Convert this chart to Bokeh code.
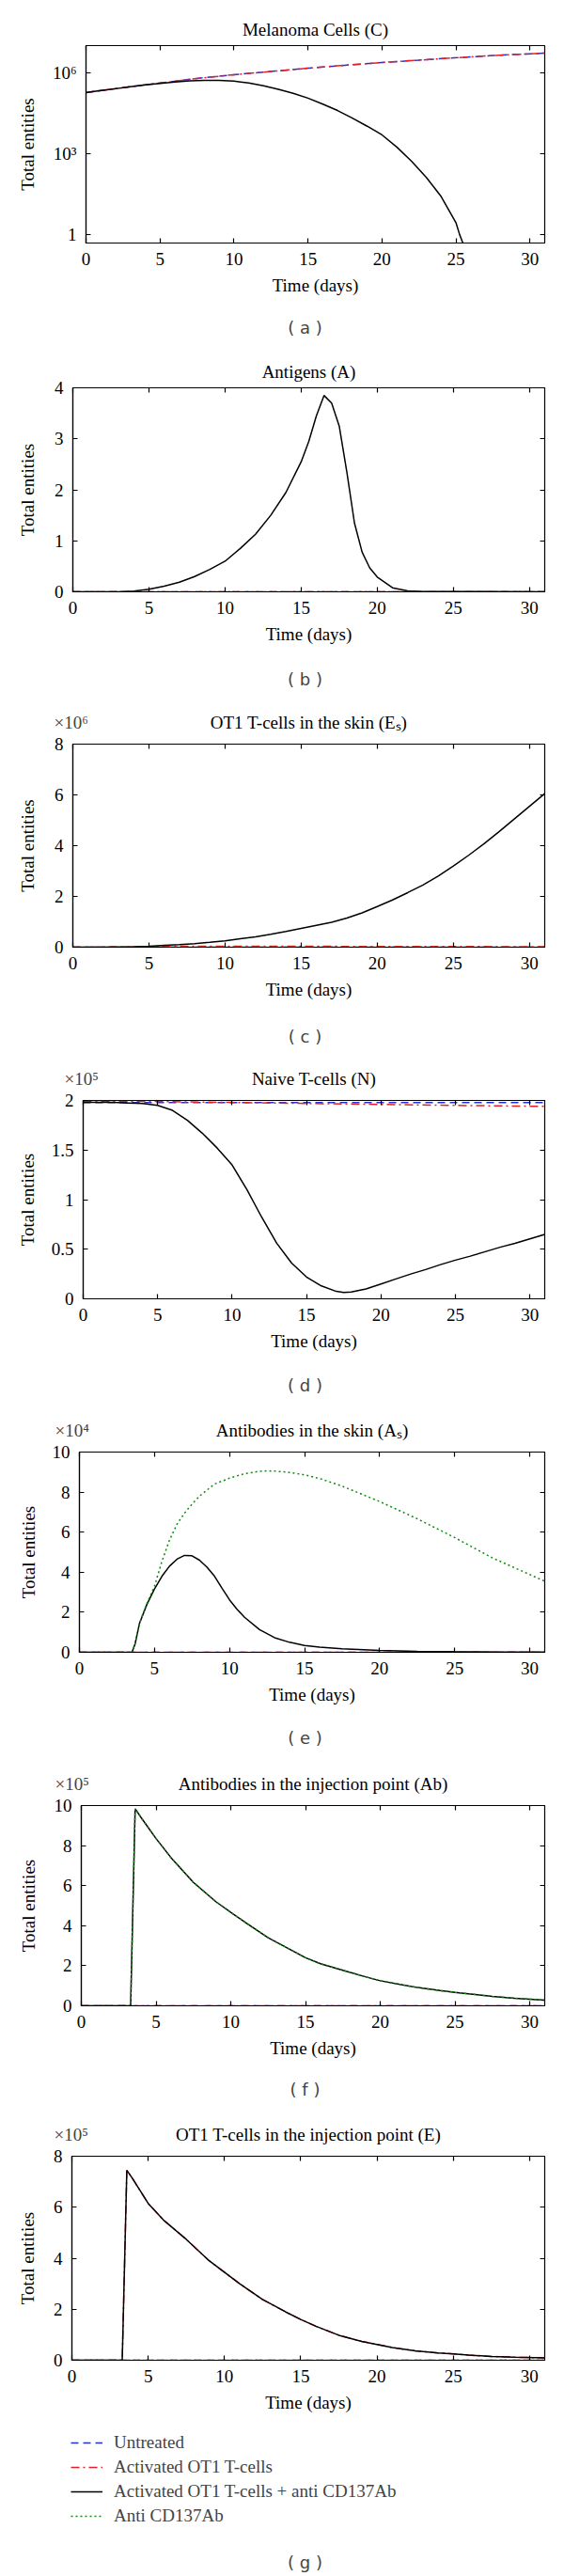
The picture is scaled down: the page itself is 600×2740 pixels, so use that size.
from bokeh.plotting import figure
from bokeh.models import (Range1d, FixedTicker, LinearAxis, LogAxis, Label, Legend,
                          LegendItem, NumeralTickFormatter)
from bokeh.document import Document
from bokeh.embed import file_html
from bokeh.resources import INLINE

# ------------------------------------------------------------------ data
series_names = ["Untreated", "Activated OT1 T-cells",
                "Activated OT1 T-cells + anti CD137Ab", "Anti CD137Ab"]
x_ticks = [0, 5, 10, 15, 20, 25, 30]
t_flat = [0, 31]
zeros = [0, 0]

# (a) Melanoma cells C (absolute numbers, log axis)
a_t_ctrl = [0, 2.5, 5, 7.5, 10, 12.5, 15, 17.5, 20, 22.5, 25, 27.5, 31]
a_untreated = [186000, 282000, 417000, 617000, 851000, 1120000, 1480000,
               1905000, 2400000, 2950000, 3630000, 4370000, 5370000]
a_activated = [186000, 282000, 417000, 617000, 851000, 1120000, 1480000,
               1905000, 2400000, 2950000, 3630000, 4370000, 5370000]
a_t_combo = [0, 1, 2, 3, 4, 5, 6, 7, 8, 9, 10, 11, 12, 13, 14, 15, 16, 17, 18,
             19, 20, 21, 22, 23, 24, 25, 25.25, 25.6]
a_combo = [186000, 219000, 257000, 302000, 355000, 407000, 457000, 501000,
           525000, 525000, 490000, 417000, 331000, 245000, 174000, 115000,
           69000, 40000, 21000, 10500, 5000, 1780, 525, 132, 26, 2.8, 1.0, 0.32]

# (b) Antigens A
b_t_combo = [0, 3, 4, 5, 6, 7, 8, 9, 10, 11, 12, 13, 14, 15, 15.5, 16, 16.5,
             17, 17.5, 18, 18.5, 19, 19.5, 20, 21, 22, 23, 31]
b_combo = [0, 0, 0.015, 0.05, 0.11, 0.19, 0.3, 0.44, 0.6, 0.85, 1.13, 1.5,
           1.95, 2.55, 2.95, 3.45, 3.85, 3.7, 3.25, 2.35, 1.35, 0.78, 0.47,
           0.29, 0.08, 0.02, 0.005, 0]

# (c) OT1 T-cells in the skin Es (x 10^6)
c_t_combo = [0, 2, 4, 5, 6, 7, 8, 9, 10, 11, 12, 13, 14, 15, 16, 17, 18, 19,
             20, 21, 22, 23, 24, 25, 26, 27, 28, 29, 30, 31]
c_combo = [0, 0.003, 0.02, 0.04, 0.07, 0.1, 0.14, 0.19, 0.25, 0.33, 0.41,
           0.51, 0.62, 0.74, 0.86, 0.98, 1.15, 1.35, 1.6, 1.86, 2.15, 2.45,
           2.8, 3.2, 3.62, 4.07, 4.55, 5.05, 5.55, 6.05]
c_t_activated = [0, 4, 6, 8, 10, 15, 20, 25, 31]
c_activated = [0, 0.01, 0.03, 0.04, 0.04, 0.035, 0.03, 0.025, 0.02]

# (d) Naive T-cells N (x 10^5)
d_t_combo = [0, 1, 2, 3, 4, 5, 6, 7, 8, 9, 10, 11, 12, 13, 14, 15, 16, 17,
             17.5, 18, 19, 20, 21, 22, 23, 24, 25, 26, 27, 28, 29, 30, 31]
d_combo = [1.98, 1.98, 1.98, 1.975, 1.97, 1.95, 1.9, 1.8, 1.67, 1.52, 1.35,
           1.1, 0.82, 0.56, 0.36, 0.22, 0.13, 0.075, 0.065, 0.068, 0.1, 0.15,
           0.2, 0.25, 0.295, 0.345, 0.39, 0.43, 0.475, 0.52, 0.56, 0.605, 0.65]
d_t_ctrl = [0, 5, 10, 15, 20, 25, 31]
d_untreated = [1.978, 1.978, 1.978, 1.978, 1.978, 1.978, 1.978]
d_activated = [1.99, 1.99, 1.98, 1.97, 1.96, 1.95, 1.94]

# (e) Antibodies in the skin As (x 10^4)
e_t_combo = [0, 3.5, 3.7, 4, 4.5, 5, 5.5, 6, 6.5, 7, 7.5, 8, 8.5, 9, 9.5, 10,
             10.5, 11, 12, 13, 14, 15, 16, 17.5, 20, 22.5, 25, 28, 31]
e_combo = [0, 0, 0.4, 1.44, 2.4, 3.16, 3.8, 4.3, 4.65, 4.84, 4.82, 4.6, 4.25,
           3.8, 3.2, 2.62, 2.15, 1.75, 1.13, 0.73, 0.5, 0.34, 0.26, 0.18,
           0.09, 0.05, 0.03, 0.015, 0.01]
e_t_anti = [0, 3.5, 3.7, 4, 4.5, 5, 5.5, 6, 6.5, 7, 7.5, 8, 9, 10, 11, 12,
            12.5, 13, 14, 15, 16, 17.5, 20, 22.5, 25, 27.5, 31]
e_anti = [0, 0, 0.4, 1.44, 2.45, 3.3, 4.55, 5.6, 6.4, 6.95, 7.4, 7.8, 8.4,
          8.7, 8.92, 9.04, 9.06, 9.05, 8.98, 8.86, 8.68, 8.3, 7.53, 6.67,
          5.73, 4.72, 3.55]

# (f) Antibodies in the injection point Ab (x 10^5)
f_t = [0, 3.3, 3.6, 4, 5, 6, 7.5, 9, 10, 11, 12.5, 14, 15, 16, 17.5, 19, 20,
       21.5, 22.5, 24, 25, 26.5, 27.5, 29, 31]
f_combo = [0, 0, 9.84, 9.4, 8.35, 7.4, 6.16, 5.2, 4.67, 4.15, 3.4, 2.8, 2.4,
           2.1, 1.77, 1.45, 1.25, 1.04, 0.91, 0.76, 0.67, 0.55, 0.47, 0.38,
           0.28]
f_anti = [0, 0, 9.84, 9.4, 8.35, 7.4, 6.16, 5.2, 4.67, 4.15, 3.4, 2.8, 2.4,
          2.1, 1.77, 1.45, 1.25, 1.04, 0.91, 0.76, 0.67, 0.55, 0.47, 0.38,
          0.28]

# (g) OT1 T-cells in the injection point E (x 10^5)
g_t = [0, 3.3, 3.6, 4, 5, 6, 7.5, 9, 10, 11, 12.5, 14, 15, 16, 17.5, 19, 20,
       21, 22.5, 24, 25, 26, 27.5, 29, 31]
g_activated = [0, 0, 7.45, 7.1, 6.15, 5.5, 4.74, 3.9, 3.45, 3.0, 2.38, 1.9,
               1.6, 1.33, 0.98, 0.74, 0.62, 0.5, 0.37, 0.29, 0.25, 0.2, 0.15,
               0.12, 0.09]
g_combo = [0, 0, 7.45, 7.1, 6.15, 5.5, 4.74, 3.9, 3.45, 3.0, 2.38, 1.9, 1.6,
           1.33, 0.98, 0.74, 0.62, 0.5, 0.37, 0.29, 0.25, 0.2, 0.15, 0.12, 0.09]

# ------------------------------------------------------------------ style
SERIF = "Liberation Serif"
SANS = "DejaVu Sans"
FS = "19px"
STY = {
    "blue": dict(line_color="#2233cc", line_dash="8 5", line_width=1.5),
    "red": dict(line_color="#e3202a", line_dash="9 4 2 4", line_width=1.5),
    "black": dict(line_color="#000000", line_width=1.5),
    "green": dict(line_color="#118a11", line_dash="2 3", line_width=1.5),
}
FIG_W = 600
FRAME_RIGHT = 579
XAX = 58        # height of the bottom axis panel
LAB = 21        # height of a label panel


def style_axis(ax, ticks, labels=True):
    ax.ticker = FixedTicker(ticks=ticks)
    ax.major_tick_in = 5
    ax.major_tick_out = 0
    ax.minor_tick_in = 0
    ax.minor_tick_out = 0
    ax.axis_line_color = "black"
    ax.axis_line_width = 1.2
    ax.major_tick_line_color = "black"
    ax.major_tick_line_width = 1.2
    ax.major_label_text_font = SERIF
    ax.major_label_text_color = "black"
    ax.axis_label_text_font = SERIF
    ax.axis_label_text_font_size = FS
    ax.axis_label_text_font_style = "normal"
    ax.axis_label_text_color = "black"
    if labels:
        ax.major_label_text_font_size = FS
    else:
        ax.major_label_text_font_size = "1px"
        ax.major_label_text_color = None
        ax.major_label_standoff = 0
        ax.axis_line_color = None


def make_panel(fig_top, fig_bottom, frame_top, frame_bottom, left, y_range,
               y_ticks, title, title_standoff, ylab_standoff, caption=None,
               caption_y=None, mult=None, mult_left=None, log=False,
               y_overrides=None, y_fmt=None):
    fh = frame_bottom - frame_top
    kw = dict(width=FIG_W, height=fig_bottom - fig_top, x_range=Range1d(0, 31),
              y_range=Range1d(*y_range), output_backend="svg",
              toolbar_location=None, min_border_left=left,
              min_border_right=FIG_W - FRAME_RIGHT,
              min_border_top=frame_top - fig_top,
              min_border_bottom=fig_bottom - frame_bottom)
    if log:
        kw["y_axis_type"] = "log"
    p = figure(**kw)
    p.grid.visible = False
    p.outline_line_color = "black"
    p.outline_line_width = 1.2
    p.background_fill_color = "white"
    p.border_fill_color = "white"

    p.title.text = title
    p.title.align = "center"
    p.title.text_font = SERIF
    p.title.text_font_size = FS
    p.title.text_font_style = "normal"
    p.title.text_color = "black"
    p.title.standoff = title_standoff
    title_above = (23 + title_standoff) / 2 - 1.7

    xa = p.xaxis[0]
    style_axis(xa, x_ticks)
    xa.major_label_standoff = 10
    xa.axis_label = "Time (days)"
    xa.axis_label_standoff = 8
    ya = p.yaxis[0]
    style_axis(ya, y_ticks)
    ya.major_label_standoff = 10
    ya.axis_label = "Total entities"
    ya.axis_label_standoff = ylab_standoff
    if y_overrides:
        ya.major_label_overrides = y_overrides
    if y_fmt:
        ya.formatter = NumeralTickFormatter(format=y_fmt)

    top = LinearAxis()
    style_axis(top, x_ticks, labels=False)
    p.add_layout(top, "above")
    right = LogAxis() if log else LinearAxis()
    style_axis(right, y_ticks, labels=False)
    p.add_layout(right, "right")

    used = XAX
    if mult:
        used += LAB
        p.add_layout(Label(x=mult_left - left, y=used + fh + title_above,
                           x_units="screen", y_units="screen", text=mult,
                           text_font=SERIF, text_font_size=FS, text_align="left",
                           text_baseline="middle"), "below")
    if caption:
        used += LAB
        p.add_layout(Label(x=324 - left, y=used - (caption_y - frame_bottom),
                           x_units="screen", y_units="screen", text=caption,
                           text_font=SANS, text_font_size="18px",
                           text_align="center", text_baseline="middle"), "below")
    return p


pa = make_panel(0, 372, 48, 258, 91, (0.49, 1.02e7), [1, 1000, 1000000],
                "Melanoma Cells (C)", 14, 13, "( a )", 348, log=True,
                y_overrides={1: "1", 1000: "10³", 1000000: "10⁶"})
pa.line(a_t_ctrl, a_untreated, **STY["blue"])
pa.line(a_t_ctrl, a_activated, **STY["red"])
pa.line(a_t_combo, a_combo, **STY["black"])

pb = make_panel(372, 742, 412, 629, 77, (0, 4), [0, 1, 2, 3, 4],
                "Antigens (A)", 14, 15, "( b )", 722)
pb.line(t_flat, zeros, **STY["blue"])
pb.line(t_flat, zeros, **STY["red"])
pb.line(b_t_combo, b_combo, **STY["black"])
pb.line(t_flat, zeros, **STY["green"])

pc = make_panel(742, 1121, 791, 1007, 77, (0, 8), [0, 2, 4, 6, 8],
                "OT1 T-cells in the skin (Eₛ)", 26, 15, "( c )", 1102,
                mult="×10⁶", mult_left=57)
pc.line(t_flat, zeros, **STY["blue"])
pc.line(c_t_activated, c_activated, **STY["red"])
pc.line(c_t_combo, c_combo, **STY["black"])
pc.line(t_flat, zeros, **STY["green"])

pd_ = make_panel(1121, 1495, 1170, 1381, 88, (0, 2), [0, 0.5, 1, 1.5, 2],
                 "Naive T-cells (N)", 26, 12, "( d )", 1473,
                 mult="×10⁵", mult_left=68, y_fmt="0.[0]")
pd_.line(d_t_ctrl, d_untreated, **STY["blue"])
pd_.line(d_t_ctrl, d_activated, **STY["red"])
pd_.line(d_t_combo, d_combo, **STY["black"])

pe = make_panel(1495, 1871, 1544, 1757, 84, (0, 10), [0, 2, 4, 6, 8, 10],
                "Antibodies in the skin (Aₛ)", 26, 12, "( e )", 1848,
                mult="×10⁴", mult_left=58)
pe.line(t_flat, zeros, **STY["blue"])
pe.line(t_flat, zeros, **STY["red"])
pe.line(e_t_combo, e_combo, **STY["black"])
pe.line(e_t_anti, e_anti, **STY["green"])

pf = make_panel(1871, 2244, 1920, 2133, 86, (0, 10), [0, 2, 4, 6, 8, 10],
                "Antibodies in the injection point (Ab)", 26, 14, "( f )", 2222,
                mult="×10⁵", mult_left=58)
pf.line(t_flat, zeros, **STY["blue"])
pf.line(t_flat, zeros, **STY["red"])
pf.line(f_t, f_combo, **STY["black"])
pf.line(f_t, f_anti, **STY["green"])

pg = make_panel(2244, 2589, 2293, 2510, 76, (0, 8), [0, 2, 4, 6, 8],
                "OT1 T-cells in the injection point (E)", 26, 14,
                mult="×10⁵", mult_left=57)
pg.line(t_flat, zeros, **STY["blue"])
pg.line(g_t, g_activated, **STY["red"])
pg.line(g_t, g_combo, **STY["black"])
pg.line(t_flat, zeros, **STY["green"])

# legend + caption strip under panel (g); its lines repeat panel (g)'s series,
# kept outside the strip's visible range so only the legend samples show
LEG_H = 2740 - 2589
pl = figure(width=FIG_W, height=LEG_H, x_range=Range1d(-3, -2),
            y_range=Range1d(-3, -2), x_axis_location=None, y_axis_location=None,
            toolbar_location=None, min_border=0, output_backend="svg",
            title_location=None)
pl.grid.visible = False
pl.outline_line_color = None
pl.background_fill_color = "white"
pl.border_fill_color = "white"
lr = [pl.line(t_flat, zeros, **STY["blue"]),
      pl.line(g_t, g_activated, **STY["red"]),
      pl.line(g_t, g_combo, **STY["black"]),
      pl.line(t_flat, zeros, **STY["green"])]
legend = Legend(items=[LegendItem(label=n, renderers=[r])
                       for n, r in zip(series_names, lr)],
                location=(75, LEG_H - 2 - 96), orientation="vertical",
                glyph_width=34, glyph_height=20, label_height=21, spacing=4,
                label_standoff=12, padding=0, margin=0,
                label_text_font=SERIF, label_text_font_size=FS,
                label_text_baseline="middle", border_line_alpha=0,
                background_fill_alpha=0)
pl.add_layout(legend, "center")
pl.add_layout(Label(x=324, y=LEG_H - (2725 - 2589), x_units="screen",
                    y_units="screen", text="( g )", text_font=SANS,
                    text_font_size="18px", text_align="center",
                    text_baseline="middle"))

doc = Document()
for p in (pa, pb, pc, pd_, pe, pf, pg, pl):
    doc.add_root(p)
open("out.html", "w").write(file_html(doc, INLINE))
